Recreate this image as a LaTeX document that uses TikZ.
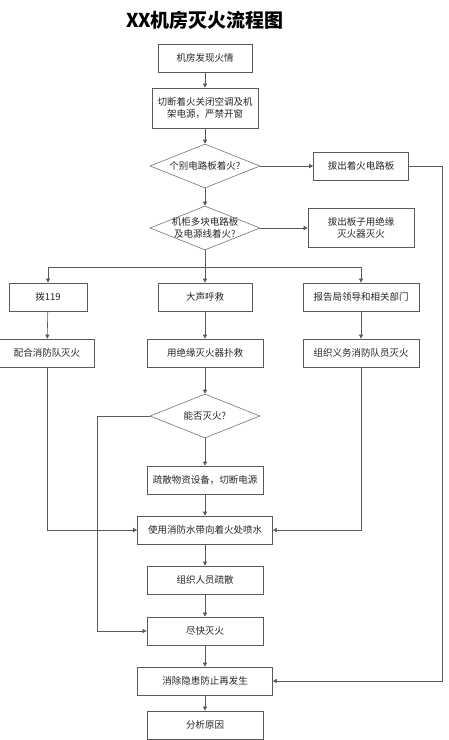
\documentclass[tikz,border=0pt]{standalone}
\usepackage{fontspec}
\setmainfont{Noto Sans CJK SC}
\usetikzlibrary{shapes.geometric,arrows.meta,shadows}
\begin{document}
\begin{tikzpicture}
	[x=1pt,y=-1pt,
	every node/.style={font=\fontsize{9.5}{12}\selectfont,text=black!85,align=center},
	box/.style={rectangle,draw=black!65,line width=0.7pt,fill=white,minimum height=28,inner sep=1pt,
		drop shadow={shadow xshift=0.9pt,shadow yshift=-0.9pt,fill=black!25,opacity=1}},
	decision/.style={diamond,draw=black!55,line width=0.6pt,fill=white,minimum width=110,minimum height=44,inner sep=0pt},
	line/.style={draw=black!65,line width=0.6pt},
	arrow/.style={line,-{Triangle[length=4pt,width=4pt]}},]
	\useasboundingbox (0,0) rectangle (448,740);
	\node[font=\fontsize{19}{22}\bfseries\selectfont,text=black] (title) at (205,20) {XX机房灭火流程图};
	% main line
	\node[box,minimum width=94] (find) at (205,58) {机房发现火情};
	\node[box,minimum width=106,minimum height=40] (cut) at (205,108) {切断着火关闭空调及机\\架电源，严禁开窗};
	\node[decision,label=center:{个别电路板着火?}] (boardq) at (205,166) {};
	\node[box,minimum width=95] (pull) at (361,166) {拔出着火电路板};
	\node[decision,label={[align=center]center:{机柜多块电路板\\及电源线着火?}}] (rackq) at (205,228) {};
	\node[box,minimum width=106,minimum height=39] (pullext) at (361,228) {拔出板子用绝缘\\灭火器灭火};
	\coordinate (split) at (205,267);
	% three branches
	\node[box,minimum width=78] (dial) at (48,297) {拨119};
	\node[box,minimum width=94] (shout) at (205,297) {大声呼救};
	\node[box,minimum width=116] (report) at (361,297) {报告局领导和相关部门};
	\node[box,minimum width=95] (assist) at (47,353) {配合消防队灭火};
	\node[box,minimum width=116] (extinguish) at (205,353) {用绝缘灭火器扑救};
	\node[box,minimum width=116] (volunteer) at (361,353) {组织义务消防队员灭火};
	\node[decision,label=center:{能否灭火?}] (canq) at (205,416) {};
	\coordinate (leftbend) at (97,416);
	\node[box,minimum width=116] (move) at (205,480) {疏散物资设备，切断电源};
	\node[box,minimum width=135] (spray) at (205,530) {使用消防水带向着火处喷水};
	\node[box,minimum width=116] (crowd) at (205,580) {组织人员疏散};
	\node[box,minimum width=116] (quick) at (205,631) {尽快灭火};
	\node[box,minimum width=135] (remove) at (205,681) {消除隐患防止再发生};
	\node[box,minimum width=116] (analyse) at (205,725) {分析原因};
	\coordinate (rightbend) at (442,166);
	% connectors
	\draw[arrow] (find) -- (cut);
	\draw[arrow] (cut) -- (boardq);
	\draw[arrow] (boardq) -- (pull);
	\draw[arrow] (boardq) -- (rackq);
	\draw[arrow] (rackq) -- (pullext);
	\draw[arrow] (rackq) -- (shout);
	\draw[arrow] (split) -| (dial);
	\draw[arrow] (split) -| (report);
	\draw[arrow] (dial) -- (assist);
	\draw[arrow] (shout) -- (extinguish);
	\draw[arrow] (report) -- (volunteer);
	\draw[arrow] (extinguish) -- (canq);
	\draw[arrow] (canq) -- (move);
	\draw[arrow] (move) -- (spray);
	\draw[arrow] (assist) |- (spray);
	\draw[arrow] (volunteer) |- (spray);
	\draw[arrow] (canq) -- (leftbend) |- (quick);
	\draw[arrow] (spray) -- (crowd);
	\draw[arrow] (crowd) -- (quick);
	\draw[arrow] (quick) -- (remove);
	\draw[arrow] (remove) -- (analyse);
	\draw[arrow] (pull) -- (rightbend) |- (remove);
\end{tikzpicture}
\end{document}
